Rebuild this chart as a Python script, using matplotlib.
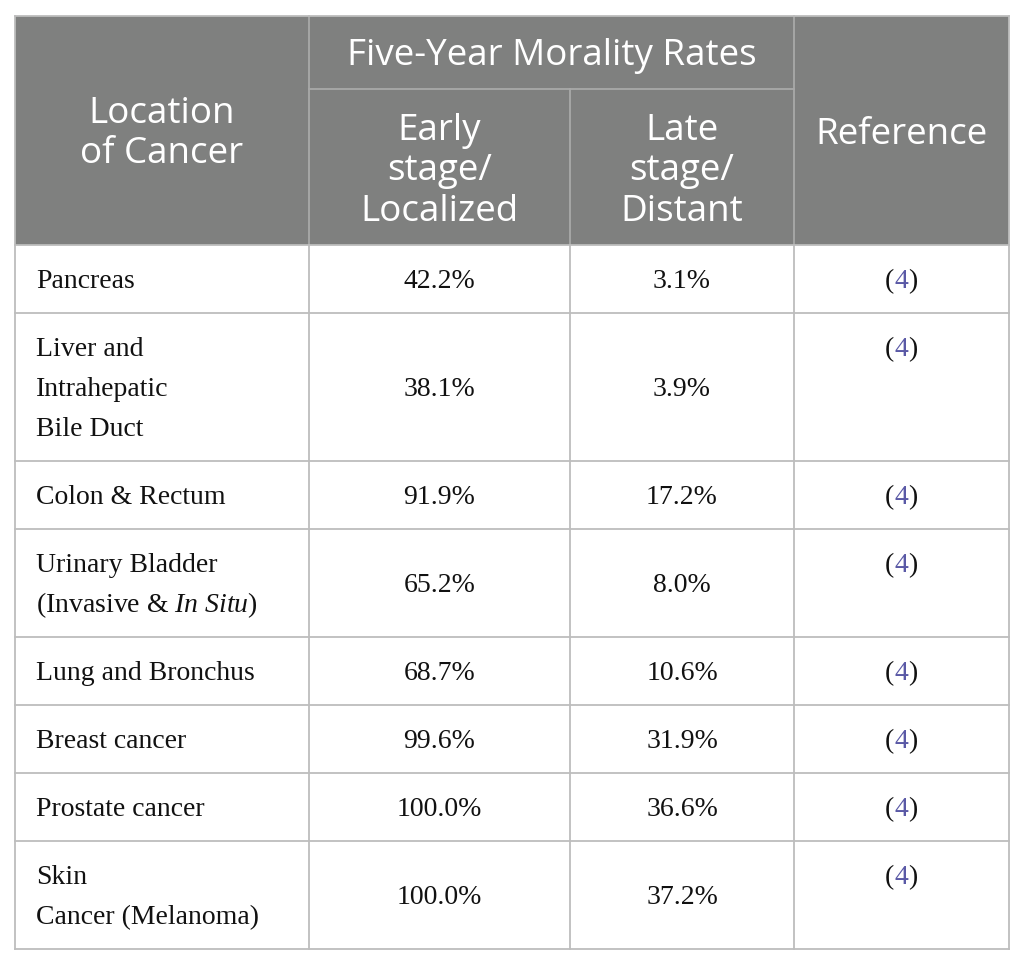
import matplotlib
matplotlib.use("Agg")
import matplotlib.pyplot as plt
from matplotlib.patches import Rectangle

plt.rcParams['mathtext.fontset'] = 'custom'
plt.rcParams['mathtext.rm'] = 'Liberation Serif'
plt.rcParams['mathtext.it'] = 'Liberation Serif:italic'

# ---- data ----
group_header = "Five-Year Morality Rates"
col_headers = [["Location", "of Cancer"],
               ["Early", "stage/", "Localized"],
               ["Late", "stage/", "Distant"],
               ["Reference"]]
locations = [["Pancreas"],
             ["Liver and", "Intrahepatic", "Bile Duct"],
             ["Colon & Rectum"],
             ["Urinary Bladder", r"(Invasive & $\mathit{In\ Situ}$)"],
             ["Lung and Bronchus"],
             ["Breast cancer"],
             ["Prostate cancer"],
             ["Skin", "Cancer (Melanoma)"]]
early_rates = ["42.2%", "38.1%", "91.9%", "65.2%", "68.7%", "99.6%", "100.0%", "100.0%"]
late_rates = ["3.1%", "3.9%", "17.2%", "8.0%", "10.6%", "31.9%", "36.6%", "37.2%"]
references = ["4", "4", "4", "4", "4", "4", "4", "4"]

# ---- layout (pixels) ----
W, H = 1025, 965
fig = plt.figure(figsize=(W / 100, H / 100), dpi=100)
ax = fig.add_axes([0, 0, 1, 1])
ax.set_xlim(0, W)
ax.set_ylim(H, 0)
ax.axis('off')

xs = [15, 309, 570, 794, 1009]
top, mid, hbot = 16, 89, 245
line_pitch = 39.5
header_fill = "#7f807f"
header_line = "#a9a9a9"
grid = "#bdbdbd"
lw = 1.3
head_font = "Open Sans"
body_font = "Liberation Serif"
hsize = 26.5
bsize = 20
ref_color = "#5a59a6"
hweight = 'medium'

# header background
ax.add_patch(Rectangle((xs[0], top), xs[-1] - xs[0], hbot - top,
                       facecolor=header_fill, edgecolor='none', zorder=1))
# header lines
ax.plot([xs[1], xs[1]], [top, hbot], color=header_line, lw=lw, zorder=2)
ax.plot([xs[3], xs[3]], [top, hbot], color=header_line, lw=lw, zorder=2)
ax.plot([xs[2], xs[2]], [mid, hbot], color=header_line, lw=lw, zorder=2)
ax.plot([xs[1], xs[3]], [mid, mid], color=header_line, lw=lw, zorder=2)
ax.plot([xs[0], xs[-1]], [top, top], color=grid, lw=lw, zorder=2)

def cx(i):
    return (xs[i] + xs[i + 1]) / 2

# header text
ax.text((xs[1] + xs[3]) / 2, 65, group_header, ha='center', va='baseline',
        color='white', fontsize=hsize, family=head_font, weight=hweight, zorder=3)
header_baselines = [[123, 163], [140, 180, 221], [140, 180, 221], [144]]
for i, lines in enumerate(col_headers):
    for ln, yb in zip(lines, header_baselines[i]):
        ax.text(cx(i), yb, ln, ha='center', va='baseline', color='white',
                fontsize=hsize, family=head_font, weight=hweight, zorder=3)

# body rows
y = hbot
row_edges = [y]
for r, lines in enumerate(locations):
    n = len(lines)
    h = 28 + 40 * n
    center = y + h / 2
    first = center - (n - 1) / 2 * line_pitch
    for k, ln in enumerate(lines):
        ax.text(36, first + k * line_pitch + 9, ln, ha='left', va='baseline',
                fontsize=bsize, family=body_font, color='#111111', zorder=3)
    ax.text(cx(1), center + 9, early_rates[r], ha='center', va='baseline',
            fontsize=bsize, family=body_font, color='#111111', zorder=3)
    ax.text(cx(2), center + 9, late_rates[r], ha='center', va='baseline',
            fontsize=bsize, family=body_font, color='#111111', zorder=3)
    # reference "(4)" with coloured number
    rb = first + 9
    ax.text(cx(3), rb, references[r], ha='center', va='baseline',
            fontsize=bsize, family=body_font, color=ref_color, zorder=3)
    ax.text(cx(3) - 7, rb, "(", ha='right', va='baseline',
            fontsize=bsize, family=body_font, color='#111111', zorder=3)
    ax.text(cx(3) + 7, rb, ")", ha='left', va='baseline',
            fontsize=bsize, family=body_font, color='#111111', zorder=3)
    y += h
    row_edges.append(y)

bottom = row_edges[-1]
for e in row_edges:
    ax.plot([xs[0], xs[-1]], [e, e], color=grid, lw=lw, zorder=2)
for xv in xs:
    ax.plot([xv, xv], [hbot, bottom], color=grid, lw=lw, zorder=2)
ax.plot([xs[0], xs[0]], [top, hbot], color=grid, lw=lw, zorder=2)
ax.plot([xs[-1], xs[-1]], [top, hbot], color=grid, lw=lw, zorder=2)

fig.savefig("out.png", dpi=100, facecolor='white')
